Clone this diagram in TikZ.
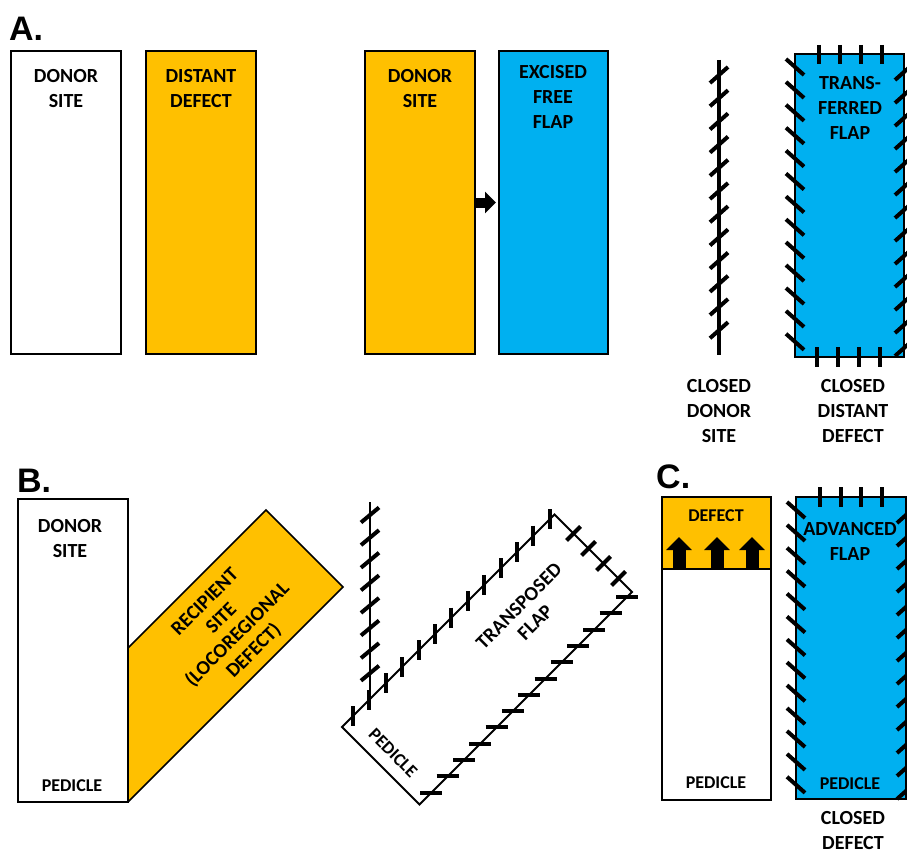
\documentclass[tikz,border=0pt]{standalone}
\usepackage{fontspec}
\setmainfont{Carlito}
\newfontfamily\labfont{Liberation Sans}
\usetikzlibrary{arrows.meta}
\definecolor{gold}{HTML}{FFC000}
\definecolor{sky}{HTML}{00B0F0}
\begin{document}
\begin{tikzpicture}[x=1pt,y=-1pt,
  box/.style={draw=black, line width=2pt, inner sep=0pt, outer sep=0pt, anchor=north west},
  lbl/.style={font=\fontsize{20}{25}\selectfont\bfseries, align=center, inner sep=0pt, anchor=north},
  slbl/.style={font=\fontsize{18}{22}\selectfont\bfseries, align=center, inner sep=0pt, anchor=north},
  rlbl/.style={font=\fontsize{20}{23}\selectfont\bfseries, align=center, inner sep=0pt, anchor=center},
  plbl/.style={font=\labfont\bfseries\fontsize{34}{38}\selectfont, inner sep=0pt, anchor=base west},
  suture/.style={line width=4pt},
  edge/.style={draw=black, line width=2pt, line join=miter},
]
\useasboundingbox (0,0) rectangle (907,851);

% ---------------- Panel A ----------------
\node[plbl] (labA) at (9,41) {A.};
\node[box, fill=white, minimum width=110pt, minimum height=303pt] (a1) at (11,51) {};
\node[box, fill=gold, minimum width=110pt, minimum height=303pt] (a2) at (146,51) {};
\node[box, fill=gold, minimum width=110pt, minimum height=303pt] (a3) at (365,51) {};
\node[box, fill=sky, minimum width=109pt, minimum height=303pt] (a4) at (499,51) {};
\node[lbl] (a1t) at (66,68.7) {DONOR\\SITE};
\node[lbl] (a2t) at (201,68.7) {DISTANT\\DEFECT};
\node[lbl] (a3t) at (420,68.7) {DONOR\\SITE};
\node[lbl] (a4t) at (553,64.7) {EXCISED\\FREE\\FLAP};
\draw[line width=10pt, -{Triangle[width=21pt,length=11pt]}] (a3.east) -- ([xshift=-3pt]a4.west);

% closed donor site
\coordinate (s1top) at (719,60);
\coordinate (s1bot) at (719,355);
\draw[line width=4pt] (s1top) -- (s1bot);
\foreach \i [evaluate=\i as \yy using 75+23.2*\i] in {0,...,11}
  \draw[suture] (710,\yy+8) -- (728,\yy-8);

% transferred flap
\node[box, fill=sky, minimum width=109pt, minimum height=303pt] (a5) at (795,54) {};
\foreach \i [evaluate=\i as \yy using 67+22.9*\i] in {0,...,12}
  \draw[suture] (786,\yy-8) -- (804,\yy+8);
\foreach \i [evaluate=\i as \yy using 72+23*\i] in {0,...,12}
  \draw[suture] (895,\yy+8) -- (913,\yy-8);
\foreach \xx in {819,840,861,882}
  \draw[suture] (\xx,45) -- (\xx,64);
\foreach \xx in {817,838,859,880}
  \draw[suture] (\xx,347) -- (\xx,367);
\node[lbl] (a5t) at (850,75.7) {TRANS-\\FERRED\\FLAP};
\node[lbl] (a6t) at (719,378.7) {CLOSED\\DONOR\\SITE};
\node[lbl] (a7t) at (853,378.7) {CLOSED\\DISTANT\\DEFECT};

% ---------------- Panel B ----------------
\node[plbl] (labB) at (17,492) {B.};
\draw[fill=gold, line width=1.5pt, line join=miter] (128,648) -- (266,510) -- (343,587) -- (128,802);
\node[box, fill=white, minimum width=110pt, minimum height=303pt] (b1) at (18,499) {};
\node[lbl] (b1t) at (70,518.7) {DONOR\\SITE};
\node[slbl] (b1p) at (72,779.3) {PEDICLE};
\node[rlbl, rotate=45] (b2t) at (230,627) {RECIPIENT\\SITE\\(LOCOREGIONAL\\DEFECT)};

% transposed flap
\coordinate (fL) at (342,727);
\coordinate (fT) at (554.5,514.5);
\coordinate (fR) at (632,592);
\coordinate (fB) at (419.5,804.5);
\draw[edge] (fL) -- (fT) -- (fR) -- (fB) -- cycle;
\coordinate (s2top) at (370,502);
\coordinate (s2bot) at (370,699);
\draw[line width=2.5pt] (s2top) -- (s2bot);
\foreach \i [evaluate=\i as \yy using 515+22.6*\i] in {0,...,7}
  \draw[suture] (361,\yy+7.5) -- (379,\yy-7.5);
\foreach \i [evaluate=\i as \xx using 353+16.4*\i] in {0,...,12}
  \draw[suture] (\xx,1069-\xx-10) -- (\xx,1069-\xx+10);
\foreach \t in {19,34,49,64}
  \draw[suture] (554.5+\t-7,514.5+\t+7) -- (554.5+\t+7,514.5+\t-7);
\foreach \i [evaluate=\i as \yy using 597+16.3*\i] in {0,...,12}
  \draw[suture] (1224-\yy-11,\yy) -- (1224-\yy+11,\yy);
\node[slbl, anchor=center, rotate=-45] (b3p) at (393,753) {PEDICLE};
\node[rlbl, rotate=45] (b3t) at (527,614) {TRANSPOSED\\FLAP};

% ---------------- Panel C ----------------
\node[plbl] (labC) at (656,488) {C.};
\node[box, fill=gold, minimum width=109pt, minimum height=72pt] (c1) at (662,497) {};
\foreach \xx in {679,717,752}
  \draw[line width=13pt, -{Triangle[width=25pt,length=13pt]}] (\xx,569) -- (\xx,537);
\node[box, fill=white, minimum width=109pt, minimum height=231pt] (c2) at (662,569) {};
\node[slbl] (c1t) at (716,509.3) {DEFECT};
\node[slbl] (c2t) at (716,776.3) {PEDICLE};

\node[box, fill=sky, minimum width=110pt, minimum height=302pt] (c3) at (796,497) {};
\foreach \i [evaluate=\i as \yy using 510+22.9*\i] in {0,...,12}
  \draw[suture] (787,\yy-8) -- (805,\yy+8);
\foreach \i [evaluate=\i as \yy using 515+23*\i] in {0,...,12}
  \draw[suture] (897,\yy+8) -- (915,\yy-8);
\foreach \xx in {820,841,861,882}
  \draw[suture] (\xx,487) -- (\xx,507);
\node[lbl] (c3t) at (850,521.7) {ADVANCED\\FLAP};
\node[slbl] (c3p) at (850,777.3) {PEDICLE};
\node[lbl] (c4t) at (853,811.5) {CLOSED\\DEFECT};
\end{tikzpicture}
\end{document}
